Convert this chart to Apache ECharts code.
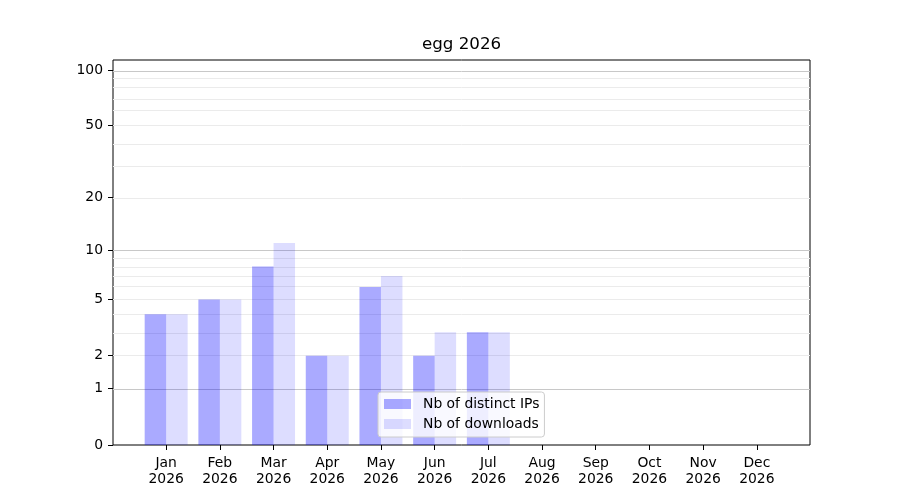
<!DOCTYPE html>
<html>
<head>
<meta charset="utf-8">
<script src="https://cdn.jsdelivr.net/npm/echarts@6/dist/echarts.min.js"></script>
<style>
  html, body { margin: 0; padding: 0; background: #fff; }
  #chart { width: 900px; height: 500px; }
</style>
</head>
<body>
<div id="chart"></div>
<script>
var months = ['Jan', 'Feb', 'Mar', 'Apr', 'May', 'Jun', 'Jul', 'Aug', 'Sep', 'Oct', 'Nov', 'Dec'];
var year = '2026';
var distinctIps = [4, 5, 8, 2, 6, 2, 3, 0, 0, 0, 0, 0];
var downloads = [4, 5, 11, 2, 7, 3, 3, 0, 0, 0, 0, 0];
var yTickValues = [0, 1, 2, 5, 10, 20, 50, 100];
var majorGrid = [1, 10, 100];
var minorGrid = [2, 3, 4, 5, 6, 7, 8, 9, 20, 30, 40, 50, 60, 70, 80, 90];

// y scale is log10(1 + v)
function fwd(v) { return Math.log10(1 + v); }
function inv(t) { return Math.round(Math.pow(10, t) - 1); }

var font = 'DejaVu Sans';
var myChart = echarts.init(document.getElementById('chart'));

var ipData = distinctIps.map(function (v, i) { return [i - 0.2, fwd(v)]; });
var dlData = downloads.map(function (v, i) { return [i + 0.2, fwd(v)]; });

function gridLines(vals, color) {
    return vals.map(function (v) {
        return { yAxis: fwd(v), lineStyle: { color: color, width: 1, type: 'solid' } };
    });
}

var option = {
    animation: false,
    title: {
        text: 'egg ' + year,
        left: 422,
        top: 36,
        padding: 0,
        textStyle: { fontFamily: font, fontSize: 16.7, fontWeight: 'normal', color: '#000' }
    },
    legend: {
        orient: 'vertical',
        left: 378,
        top: 392,
        padding: [4, 5, 5, 6],
        itemGap: 4,
        itemWidth: 27,
        itemHeight: 10,
        icon: 'rect',
        backgroundColor: 'rgba(255,255,255,0.8)',
        borderColor: '#cccccc',
        borderWidth: 1,
        borderRadius: 3,
        textStyle: { fontFamily: font, fontSize: 13.9, color: '#000', lineHeight: 16, padding: [0, 0, 0, 7] },
        data: ['Nb of distinct IPs', 'Nb of downloads']
    },
    grid: {
        left: 113,
        right: 90,
        top: 60,
        bottom: 55,
        show: true,
        borderColor: '#000',
        borderWidth: 1,
        backgroundColor: 'transparent'
    },
    xAxis: {
        type: 'value',
        min: -0.99,
        max: 11.99,
        axisLine: { show: false, onZero: false },
        splitLine: { show: false },
        axisTick: {
            show: true,
            length: 5,
            lineStyle: { color: '#000', width: 1 },
            customValues: months.map(function (m, i) { return i; })
        },
        axisLabel: {
            customValues: months.map(function (m, i) { return i; }),
            margin: 10,
            fontFamily: font,
            fontSize: 13.9,
            lineHeight: 16,
            color: '#000',
            formatter: function (v) { return months[Math.round(v)] + '\n' + year; }
        }
    },
    yAxis: {
        type: 'value',
        min: 0,
        max: 2.058,
        axisLine: { show: false, onZero: false },
        splitLine: { show: false },
        axisTick: {
            show: true,
            length: 5,
            lineStyle: { color: '#000', width: 1 },
            customValues: yTickValues.map(fwd)
        },
        axisLabel: {
            customValues: yTickValues.map(fwd),
            margin: 10,
            fontFamily: font,
            fontSize: 13.9,
            color: '#000',
            formatter: function (v) { return String(inv(v)); }
        }
    },
    series: [
        {
            // grid lines
            type: 'line',
            data: [],
            silent: true,
            z: 1,
            markLine: {
                silent: true,
                symbol: 'none',
                z: 1,
                label: { show: false },
                animation: false,
                data: gridLines(minorGrid, '#ebebeb').concat(gridLines(majorGrid, '#c8c8c8'))
            }
        },
        {
            name: 'Nb of distinct IPs',
            type: 'bar',
            z: 3,
            barWidth: 21.5,
            barGap: '-100%',
            itemStyle: { color: 'rgba(0,0,255,0.333)' },
            data: ipData
        },
        {
            name: 'Nb of downloads',
            type: 'bar',
            z: 3,
            barWidth: 21.5,
            barGap: '-100%',
            itemStyle: { color: 'rgba(0,0,255,0.133)' },
            data: dlData
        }
    ]
};

myChart.setOption(option);
</script>
</body>
</html>
